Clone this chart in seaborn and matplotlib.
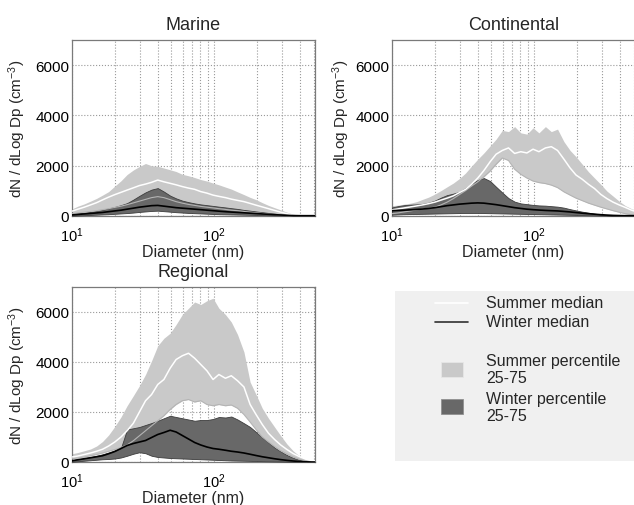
import numpy as np
import pandas as pd
import seaborn as sns
import matplotlib
matplotlib.use("Agg")
import matplotlib.pyplot as plt
from matplotlib.ticker import NullFormatter, FixedLocator
from matplotlib.patches import Rectangle

# ---------------- data ----------------
diameter = [10, 11, 12.2, 13.5, 14.9, 16.4, 18.1, 20, 22.1, 24.4, 27, 29.8, 32.9, 36.3,
            40.1, 44.3, 49, 54, 59.7, 66, 72.9, 80.5, 88.9, 98.2, 108, 120, 132, 146,
            162, 179, 197, 218, 241, 266, 294, 325, 359, 396, 438, 484, 510]

panels = ["Marine", "Continental", "Regional"]

# Marine
marine_s75 = [270, 380, 470, 580, 690, 820, 960, 1180, 1390, 1640, 1820, 1960, 2080, 1990,
              1970, 1900, 1830, 1760, 1650, 1590, 1520, 1440, 1380, 1300, 1230, 1140, 1060, 950,
              840, 730, 640, 520, 410, 320, 230, 140, 60, 10, 0, 0, 0]
marine_smed = [180, 260, 340, 430, 520, 630, 740, 840, 930, 1020, 1110, 1200, 1260, 1330,
               1420, 1350, 1290, 1230, 1160, 1100, 1050, 960, 900, 820, 770, 720, 660, 610,
               560, 490, 420, 350, 280, 210, 140, 80, 20, 0, 0, 0, 0]
marine_s25 = [80, 110, 140, 170, 200, 240, 280, 330, 380, 440, 510, 580, 650, 720,
              760, 720, 640, 560, 500, 450, 410, 370, 340, 310, 280, 250, 220, 200,
              170, 140, 120, 90, 70, 50, 30, 15, 0, 0, 0, 0, 0]
marine_w75 = [60, 90, 120, 150, 190, 230, 290, 350, 420, 500, 640, 790, 930, 1040,
              1100, 960, 800, 690, 600, 540, 490, 450, 420, 390, 360, 330, 300, 270,
              230, 200, 170, 140, 110, 80, 55, 30, 10, 0, 0, 0, 0]
marine_wmed = [30, 50, 70, 90, 110, 130, 160, 190, 220, 260, 300, 340, 370, 400,
               410, 380, 350, 320, 300, 280, 260, 240, 220, 200, 180, 160, 145, 130,
               115, 100, 85, 70, 55, 40, 28, 15, 5, 0, 0, 0, 0]
marine_w25 = [0, 10, 20, 30, 40, 50, 60, 75, 90, 105, 125, 150, 170, 190,
              200, 180, 160, 140, 125, 110, 100, 90, 80, 70, 60, 55, 50, 45,
              40, 35, 30, 25, 20, 15, 10, 5, 0, 0, 0, 0, 0]

# Continental
cont_s75 = [400, 420, 460, 500, 560, 650, 740, 860, 1000, 1150, 1300, 1480, 1700, 1980,
            2250, 2500, 2780, 3050, 3400, 3350, 3550, 3300, 3250, 3500, 3300, 3550, 3350, 3450,
            2950, 2600, 2350, 2050, 1750, 1500, 1250, 980, 780, 580, 400, 280, 230]
cont_smed = [230, 270, 310, 350, 390, 430, 480, 540, 620, 700, 790, 920, 1050, 1250,
             1500, 1800, 2150, 2450, 2600, 2700, 2480, 2550, 2500, 2650, 2550, 2700, 2750, 2600,
             2250, 1900, 1620, 1450, 1250, 1080, 850, 680, 540, 430, 330, 220, 180]
cont_s25 = [80, 110, 150, 190, 230, 270, 300, 340, 430, 540, 680, 840, 1000, 1180,
            1350, 1550, 1780, 2050, 2300, 2200, 1850, 1650, 1500, 1380, 1320, 1280, 1220, 1120,
            950, 820, 700, 600, 500, 420, 340, 270, 200, 140, 80, 40, 30]
cont_w75 = [330, 380, 420, 440, 450, 470, 520, 600, 720, 820, 880, 950, 1100, 1270,
            1420, 1500, 1380, 1150, 920, 700, 560, 490, 460, 430, 410, 400, 380, 360,
            320, 260, 210, 160, 120, 80, 50, 20, 5, 0, 0, 0, 0]
cont_wmed = [200, 210, 220, 235, 250, 265, 290, 320, 360, 400, 430, 460, 480, 500,
             510, 500, 470, 440, 400, 360, 320, 290, 260, 240, 225, 210, 200, 190,
             170, 150, 125, 100, 80, 60, 40, 25, 12, 5, 0, 0, 0]
cont_w25 = [40, 50, 60, 65, 70, 75, 80, 85, 90, 95, 100, 105, 110, 110,
            110, 105, 100, 95, 90, 85, 80, 75, 70, 65, 60, 55, 50, 45,
            40, 35, 30, 25, 20, 15, 10, 5, 0, 0, 0, 0, 0]

# Regional
reg_s75 = [330, 380, 450, 520, 640, 820, 1080, 1420, 1800, 2250, 2650, 3050, 3500, 4050,
           4650, 4950, 5150, 5500, 5900, 6150, 6400, 6300, 6450, 6550, 6150, 5900, 5600, 5100,
           4400, 3200, 2700, 2150, 1750, 1400, 1050, 720, 450, 250, 120, 50, 30]
reg_smed = [200, 240, 300, 360, 430, 510, 640, 800, 1000, 1250, 1550, 2000, 2450, 2700,
            3100, 3300, 3750, 4100, 4250, 4350, 4150, 3900, 3650, 3300, 3500, 3350, 3450, 3250,
            3000, 2300, 1900, 1500, 1150, 900, 680, 500, 340, 220, 120, 60, 40]
reg_s25 = [130, 160, 200, 250, 300, 360, 430, 500, 580, 680, 850, 1050, 1250, 1450,
           1650, 1850, 2100, 2300, 2450, 2500, 2400, 2450, 2300, 2250, 2300, 2250, 2280, 2150,
           1900, 1600, 1300, 1000, 800, 620, 450, 320, 200, 110, 50, 20, 10]
reg_w75 = [70, 110, 150, 200, 250, 310, 380, 460, 560, 1300, 1350, 1400, 1480, 1560,
           1650, 1750, 1850, 1800, 1750, 1700, 1650, 1680, 1680, 1720, 1800, 1780, 1820, 1700,
           1550, 1400, 1200, 980, 780, 580, 420, 280, 170, 90, 40, 15, 5]
reg_wmed = [50, 90, 130, 170, 210, 250, 330, 420, 540, 660, 740, 800, 860, 980,
            1100, 1180, 1270, 1200, 1060, 920, 780, 680, 600, 540, 510, 470, 430, 400,
            360, 310, 260, 210, 170, 130, 95, 65, 40, 20, 8, 0, 0]
reg_w25 = [10, 30, 50, 70, 90, 110, 120, 140, 180, 250, 330, 390, 350, 250,
           200, 180, 160, 150, 140, 130, 120, 110, 100, 90, 80, 70, 60, 55,
           50, 45, 40, 35, 30, 25, 20, 15, 10, 5, 0, 0, 0]

y_ticks = [0, 2000, 4000, 6000]
legend_labels = ["Summer median", "Winter median",
                 "Summer percentile\n25-75", "Winter percentile\n25-75"]

# ---------------- style ----------------
sns.set_theme(style="white")
plt.rcParams["font.family"] = ["Liberation Sans", "DejaVu Sans"]
plt.rcParams["mathtext.fontset"] = "custom"
plt.rcParams["mathtext.rm"] = "Liberation Sans"
plt.rcParams["mathtext.it"] = "Liberation Sans:italic"
plt.rcParams["mathtext.bf"] = "Liberation Sans:bold"

LIGHT = "#c9c9c9"
DARK = "#686868"
FRAME = "#7a7a7a"

fig = plt.figure(figsize=(6.34, 5.06), dpi=100)
W, H = 634.0, 506.0

def ax_rect(left, top, right, bottom):
    return [left / W, 1 - bottom / H, (right - left) / W, (bottom - top) / H]

rects = {
    "Marine": ax_rect(72, 41, 315, 216.7),
    "Continental": ax_rect(392, 41, 635, 216.7),
    "Regional": ax_rect(72, 288, 315, 463),
}
ylabel_x = {"Marine": -0.18, "Continental": -0.166, "Regional": -0.18}

series = {
    "Marine": (marine_s25, marine_s75, marine_smed, marine_w25, marine_w75, marine_wmed),
    "Continental": (cont_s25, cont_s75, cont_smed, cont_w25, cont_w75, cont_wmed),
    "Regional": (reg_s25, reg_s75, reg_smed, reg_w25, reg_w75, reg_wmed),
}

for name in panels:
    s25, s75, smed, w25, w75, wmed = series[name]
    df = pd.DataFrame({"d": diameter, "s25": s25, "s75": s75, "smed": smed,
                       "w25": w25, "w75": w75, "wmed": wmed})
    ax = fig.add_axes(rects[name])
    ax.fill_between(df["d"], df["s25"], df["s75"], color=LIGHT, lw=0, zorder=2)
    ax.fill_between(df["d"], df["w25"], df["w75"], facecolor=DARK, edgecolor="#3c3c3c",
                    lw=0.6, zorder=3)
    sns.lineplot(data=df, x="d", y="s25", ax=ax, color="#b4b4b4", lw=0.8, zorder=4)
    sns.lineplot(data=df, x="d", y="smed", ax=ax, color="white", lw=1.1, zorder=5)
    sns.lineplot(data=df, x="d", y="wmed", ax=ax, color="black", lw=1.2, zorder=6)
    ax.set_xscale("log")
    ax.set_xlim(10, 512)
    ax.set_ylim(0, 7000)
    ax.yaxis.set_major_locator(FixedLocator(y_ticks))
    ax.xaxis.set_minor_formatter(NullFormatter())
    ax.grid(True, which="both", axis="x", ls=":", color="#999999", lw=0.8, zorder=1)
    ax.grid(True, which="major", axis="y", ls=":", color="#999999", lw=0.8, zorder=1)
    ax.set_axisbelow(True)
    for sp in ax.spines.values():
        sp.set_color(FRAME)
        sp.set_linewidth(0.9)
    ax.tick_params(which="both", direction="in", colors=FRAME, labelcolor="black")
    ax.tick_params(axis="y", pad=2, labelsize=11)
    ax.tick_params(axis="x", pad=7, labelsize=10.5)
    ax.tick_params(which="major", length=3)
    ax.tick_params(which="minor", length=2)
    ax.set_title(name, fontsize=13, pad=8)
    ax.set_xlabel("Diameter (nm)", fontsize=11.5, labelpad=0)
    ax.set_ylabel("dN / dLog Dp (cm$^{-3}$)", fontsize=11)
    ax.yaxis.set_label_coords(ylabel_x[name], 0.5)

# ---------------- legend panel ----------------
lax = fig.add_axes(ax_rect(395, 292, 634, 462))
lax.set_facecolor("#f0f0f0")
lax.set_xlim(0, 1)
lax.set_ylim(0, 1)
lax.set_xticks([])
lax.set_yticks([])
for sp in lax.spines.values():
    sp.set_visible(False)

def ly(py):
    return (462 - py) / 170.0

def lx(px):
    return (px - 395) / 239.0

lax.plot([lx(435), lx(468)], [ly(304), ly(304)], color="white", lw=1.2)
lax.plot([lx(435), lx(468)], [ly(323), ly(323)], color="#303030", lw=1.2)
lax.text(lx(486), ly(304), legend_labels[0], fontsize=11.5, va="center", ha="left")
lax.text(lx(486), ly(323), legend_labels[1], fontsize=11.5, va="center", ha="left")
lax.add_patch(Rectangle((lx(441), ly(378)), lx(463) - lx(441), ly(363) - ly(378),
                        facecolor=LIGHT, edgecolor="#e6e6e6", lw=0.6))
lax.add_patch(Rectangle((lx(441), ly(415)), lx(463) - lx(441), ly(400) - ly(415),
                        facecolor=DARK, edgecolor="#909090", lw=0.6))
lax.text(lx(486), ly(370), legend_labels[2], fontsize=11.5, va="center", ha="left",
         linespacing=1.15)
lax.text(lx(486), ly(408), legend_labels[3], fontsize=11.5, va="center", ha="left",
         linespacing=1.15)

fig.savefig("out.png", dpi=100)
